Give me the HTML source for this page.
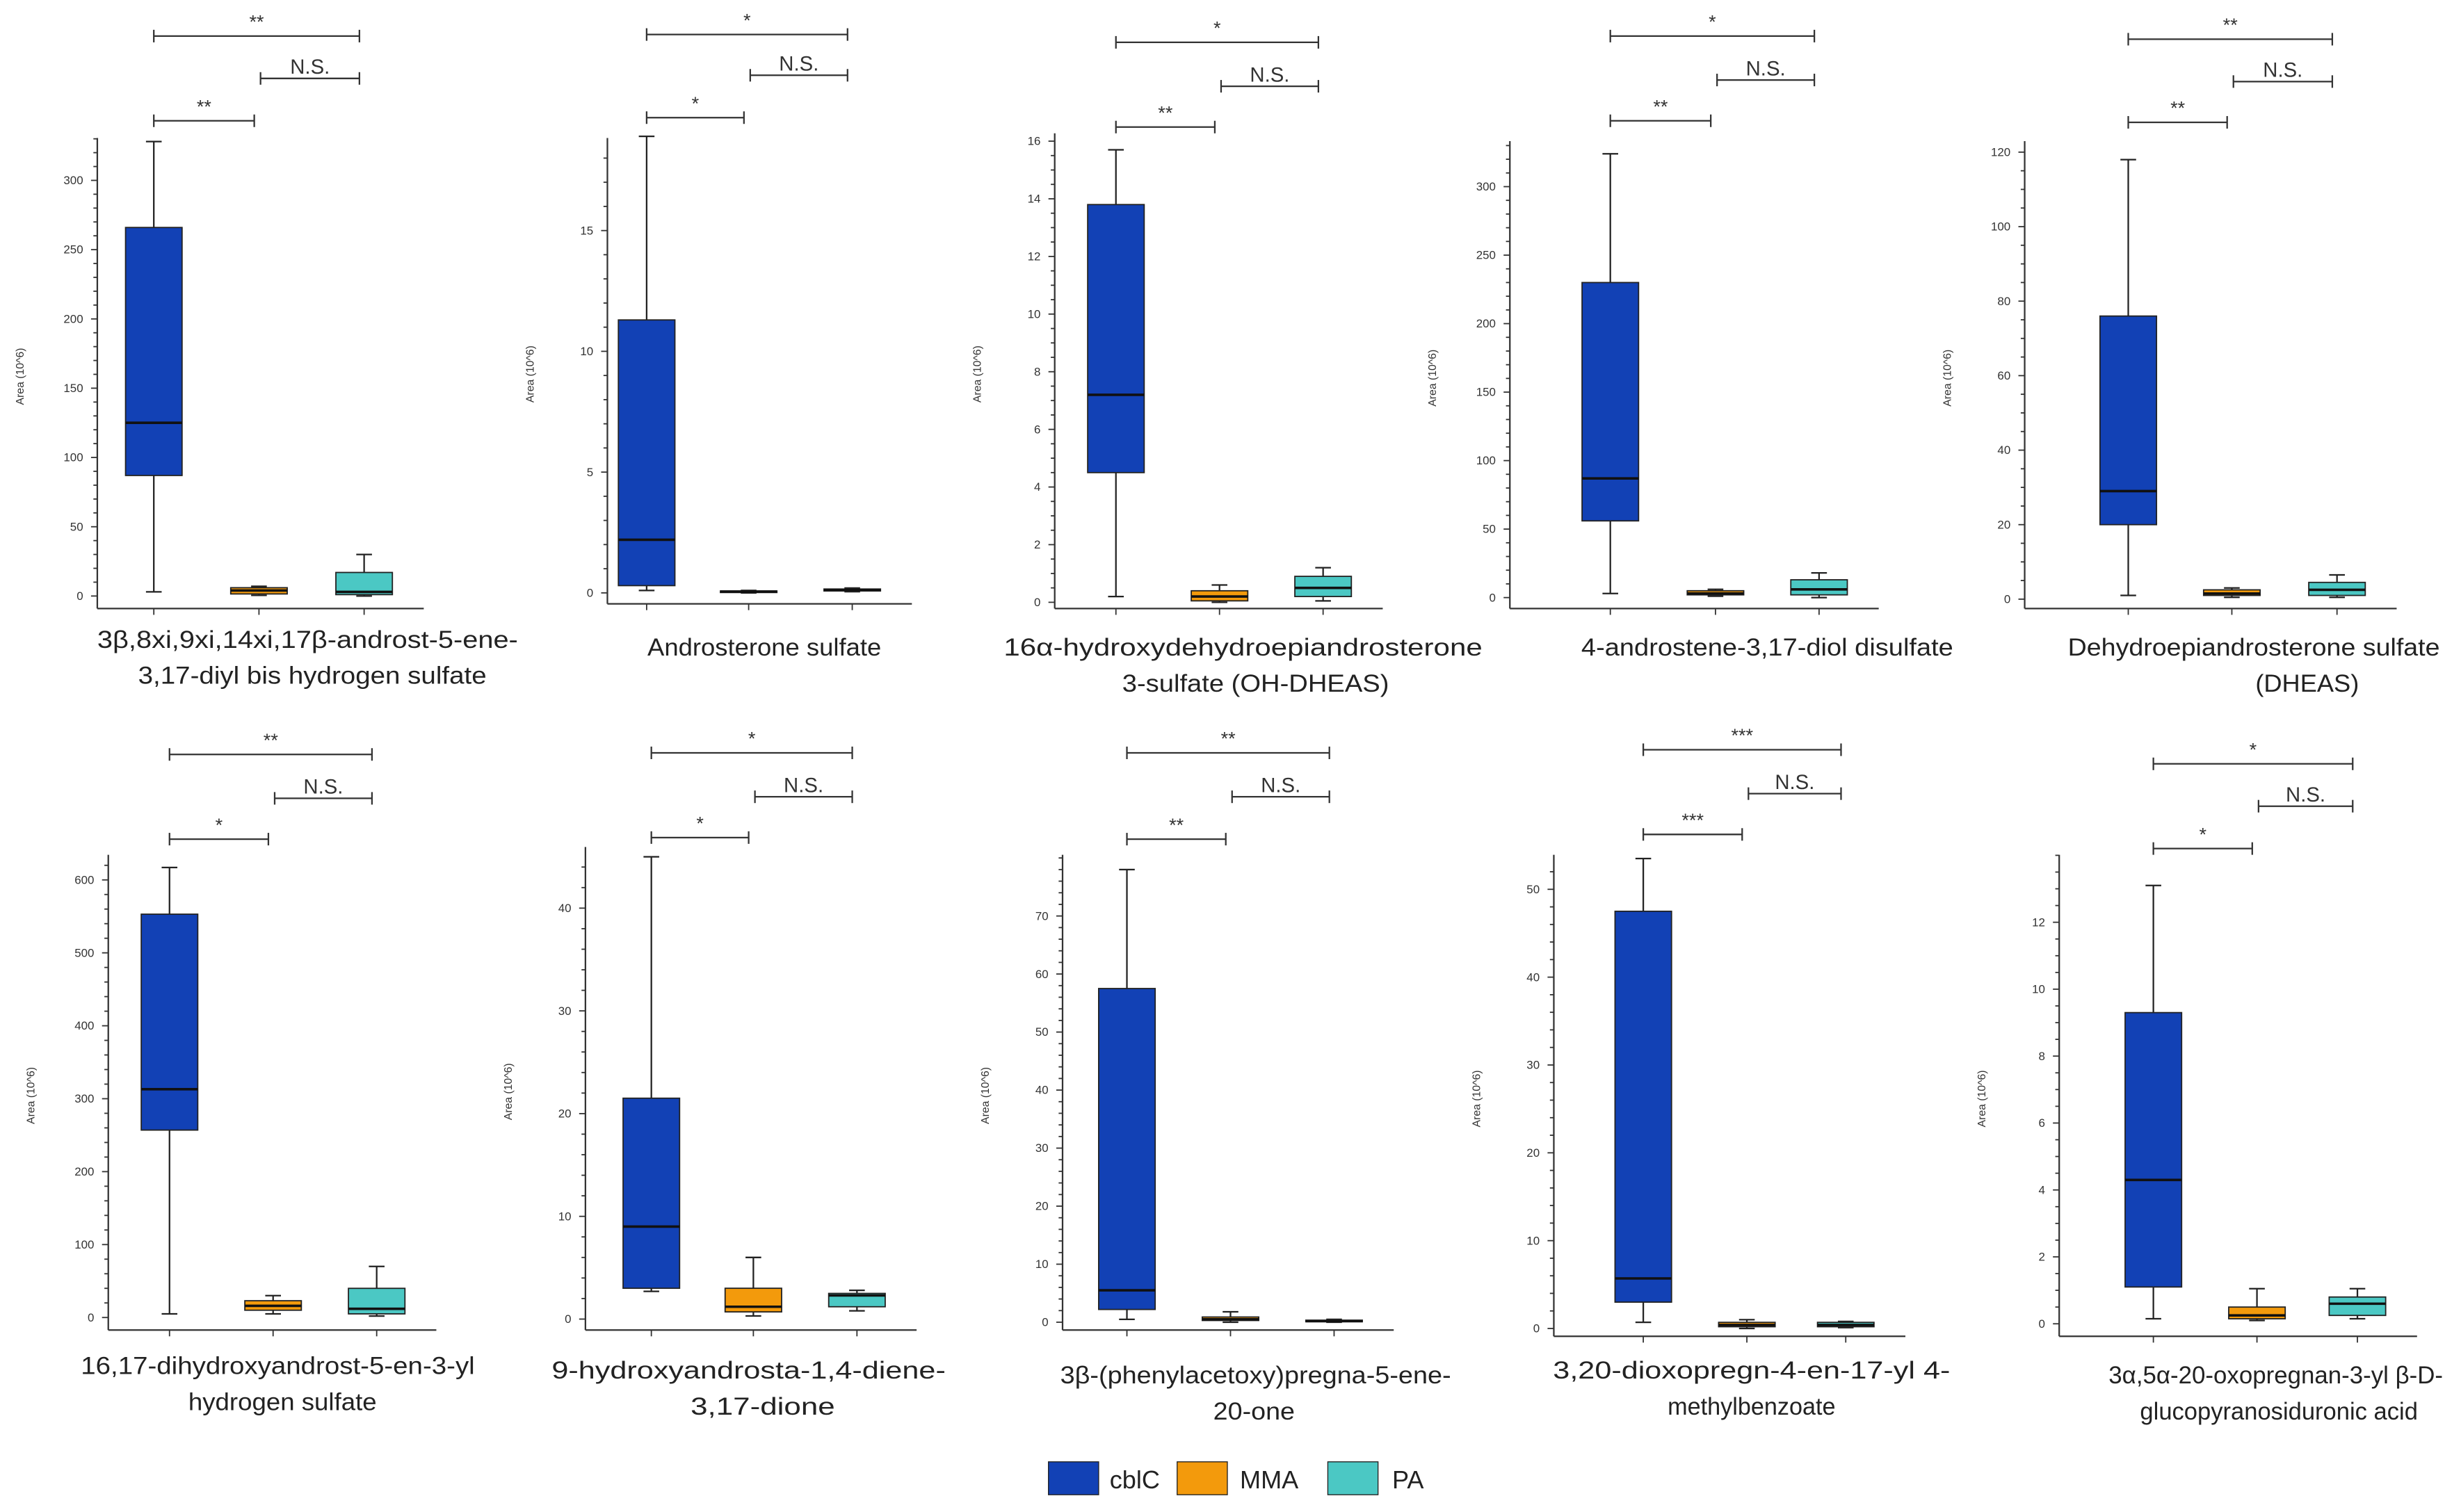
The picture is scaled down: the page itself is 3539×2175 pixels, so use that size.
<!DOCTYPE html>
<html><head><meta charset="utf-8"><style>
html,body{margin:0;padding:0;background:#fff;}
svg{display:block;}
text{font-family:"Liberation Sans",sans-serif;}
</style></head><body>
<svg id="chart" xmlns="http://www.w3.org/2000/svg" width="3539" height="2175" viewBox="0 0 1568 964" preserveAspectRatio="none">
<rect width="1568" height="964" fill="#fff"/>
<g>
<rect x="668" y="932" width="32" height="21" fill="#1241b5" stroke="#222" stroke-width="0.6"/>
<text x="707" y="949" font-size="16" fill="#222">cblC</text>
<rect x="750" y="932" width="32" height="21" fill="#f39a0c" stroke="#222" stroke-width="0.6"/>
<text x="790" y="949" font-size="16" fill="#222">MMA</text>
<rect x="846" y="932" width="32" height="21" fill="#4bc8c4" stroke="#222" stroke-width="0.6"/>
<text x="887" y="949" font-size="16" fill="#222">PA</text>
</g>
</svg>
<script>
// Data: per panel, [whiskerLow, q1, median, q3, whiskerHigh] for cblC, MMA, PA
const titles = [
 ["3β,8xi,9xi,14xi,17β-androst-5-ene-","3,17-diyl bis hydrogen sulfate"],
 ["Androsterone sulfate"],
 ["16α-hydroxydehydroepiandrosterone","3-sulfate (OH-DHEAS)"],
 ["4-androstene-3,17-diol disulfate"],
 ["Dehydroepiandrosterone sulfate","(DHEAS)"],
 ["16,17-dihydroxyandrost-5-en-3-yl","hydrogen sulfate"],
 ["9-hydroxyandrosta-1,4-diene-","3,17-dione"],
 ["3β-(phenylacetoxy)pregna-5-ene-","20-one"],
 ["3,20-dioxopregn-4-en-17-yl 4-","methylbenzoate"],
 ["3α,5α-20-oxopregnan-3-yl β-D-","glucopyranosiduronic acid"]
];
const cblcValues = [
 [3,87,125,266,328],[0.1,0.3,2.2,11.3,18.9],[0.2,4.5,7.2,13.8,15.7],[3,56,87,230,324],[1,20,29,76,118],
 [5,257,313,553,617],[2.7,3,9,21.5,45],[0.5,2.2,5.5,57.5,78],[0.7,3,5.7,47.5,53.5],[0.15,1.1,4.3,9.3,13.1]
];
const mmaValues = [
 [0.5,1.5,4,6,7],[0,0.02,0.05,0.08,0.1],[0,0.05,0.2,0.4,0.6],[1,2,3,5,6],[0.5,1,1.5,2.5,3],
 [5,10,16,23,30],[0.3,0.7,1.2,3,6],[0,0.3,0.5,0.9,1.8],[0,0.2,0.4,0.7,1],[0.1,0.15,0.25,0.5,1.05]
];
const paValues = [
 [0,1,3,17,30],[0.05,0.08,0.12,0.16,0.2],[0.05,0.2,0.5,0.9,1.2],[0,2,6,13,18],[0.5,1,2.5,4.5,6.5],
 [2,5,12,40,70],[0.8,1.2,2.3,2.5,2.8],[0,0.1,0.2,0.35,0.5],[0.1,0.2,0.4,0.7,0.8],[0.15,0.25,0.6,0.8,1.05]
];
const tickMax = [300,15,16,300,120,600,40,70,50,12];
const tickStep = [50,5,2,50,20,100,10,10,10,2];
const sigLabels = [
 ["**","N.S.","**"],["*","N.S.","*"],["*","N.S.","**"],["*","N.S.","**"],["**","N.S.","**"],
 ["**","N.S.","*"],["*","N.S.","*"],["**","N.S.","**"],["***","N.S.","***"],["*","N.S.","*"]
];
// Layout (display px, not data)
const layout = [
 {ax:62,top:88,axisY:388,y0:380,yTopV:300,yTopP:115,cx:[98,165,232],br:[23,50,77],tc:[196,199],tw:[268,222],ty:413,minor:5},
 {ax:387,top:88,axisY:385,y0:378,yTopV:15,yTopP:147,cx:[412,477,543],br:[22,48,75],tc:[487],tw:[149],ty:418,minor:5},
 {ax:672,top:85,axisY:388,y0:384,yTopV:16,yTopP:90,cx:[711,777,843],br:[27,55,81],tc:[792,800],tw:[305,170],ty:418,minor:4},
 {ax:962,top:90,axisY:388,y0:381,yTopV:300,yTopP:119,cx:[1026,1093,1159],br:[23,51,77],tc:[1126],tw:[237],ty:418,minor:5},
 {ax:1290,top:90,axisY:388,y0:382,yTopV:120,yTopP:97,cx:[1356,1422,1489],br:[25,52,78],tc:[1436,1470],tw:[237,66],ty:418,minor:4},
 {ax:69,top:545,axisY:848,y0:840,yTopV:600,yTopP:561,cx:[108,174,240],br:[481,509,535],tc:[177,180],tw:[251,120],ty:876,minor:5},
 {ax:373,top:540,axisY:848,y0:841,yTopV:40,yTopP:579,cx:[415,480,546],br:[480,508,534],tc:[477,486],tw:[251,92],ty:879,minor:5},
 {ax:677,top:545,axisY:848,y0:843,yTopV:70,yTopP:584,cx:[718,784,850],br:[480,508,535],tc:[800,799],tw:[249,52],ty:882,minor:5},
 {ax:990,top:545,axisY:852,y0:847,yTopV:50,yTopP:567,cx:[1047,1113,1176],br:[478,506,532],tc:[1116,1116],tw:[253,107],ty:879,minor:5},
 {ax:1312,top:545,axisY:852,y0:844,yTopV:12,yTopP:588,cx:[1372,1438,1502],br:[487,514,541],tc:[1450,1452],tw:[213,177],ty:882,minor:4}
];
const colors = ["#1241b5","#f39a0c","#4bc8c4"];
const NS = "http://www.w3.org/2000/svg";
const svg = document.getElementById('chart');
function mk(tag, attrs, parent){
  const e = document.createElementNS(NS, tag);
  for (const k in attrs) e.setAttribute(k, attrs[k]);
  parent.appendChild(e); return e;
}
titles.forEach((t, i) => {
  const L = layout[i];
  const yScale = v => L.y0 - v * (L.y0 - L.yTopP) / L.yTopV;
  const g = mk('g', {}, svg);
  
  
  const right = L.cx[2] + 38;
  const ya = mk('line', {x1:L.ax, y1:L.top, x2:L.ax, y2:L.axisY, stroke:'#333', 'stroke-width':1}, g);
  
  
  const xa = mk('line', {x1:L.ax, y1:L.axisY, x2:right, y2:L.axisY, stroke:'#333', 'stroke-width':1}, g);
  
  
  const minorStep = tickStep[i] / L.minor;
  for (let k = 0; ; k++) {
    const v = k * minorStep;
    const y = yScale(v);
    if (y < L.top) break;
    const major = k % L.minor === 0 && v <= tickMax[i] + 1e-9;
    mk('line', {x1:L.ax - (major ? 4 : 2.5), y1:y, x2:L.ax, y2:y, stroke:'#333', 'stroke-width':0.8}, g);
    if (major) {
      const tl = mk('text', {x:L.ax - 9, y:y + 2.5, 'font-size':7.5, 'text-anchor':'end', fill:'#333'}, g);
      
      
      tl.textContent = String(Math.round(v * 100) / 100);
    }
  }
  L.cx.forEach(x => mk('line', {x1:x, y1:L.axisY, x2:x, y2:L.axisY + 4, stroke:'#333', 'stroke-width':0.8}, g));
  const yl = mk('text', {x:0, y:0, 'font-size':7, 'text-anchor':'middle', fill:'#333',
    transform:'translate(' + (L.ax - 47) + ',' + ((L.top + L.axisY) / 2 + 2) + ') rotate(-90)'}, g);
  
  
  yl.textContent = 'Area (10^6)';
  [cblcValues[i], mmaValues[i], paValues[i]].forEach((d, j) => {
    const cx = L.cx[j], w = 36;
    const bg = mk('g', {}, g);
    
    
    const capW = 5;
    mk('line', {x1:cx, y1:yScale(d[0]), x2:cx, y2:yScale(d[1]), stroke:'#222', 'stroke-width':1}, bg);
    mk('line', {x1:cx, y1:yScale(d[3]), x2:cx, y2:yScale(d[4]), stroke:'#222', 'stroke-width':1}, bg);
    mk('line', {x1:cx - capW, y1:yScale(d[0]), x2:cx + capW, y2:yScale(d[0]), stroke:'#222', 'stroke-width':1}, bg);
    mk('line', {x1:cx - capW, y1:yScale(d[4]), x2:cx + capW, y2:yScale(d[4]), stroke:'#222', 'stroke-width':1}, bg);
    const y3 = yScale(d[3]), y1 = yScale(d[1]);
    mk('rect', {x:cx - w/2, y:y3, width:w, height:Math.max(y1 - y3, 1), fill:colors[j], stroke:'#222', 'stroke-width':0.8}, bg);
    mk('line', {x1:cx - w/2, y1:yScale(d[2]), x2:cx + w/2, y2:yScale(d[2]), stroke:'#111', 'stroke-width':1.6}, bg);
  });
  const pairs = [[0,2],[1,2],[0,1]];
  pairs.forEach((p, k) => {
    const y = L.br[k];
    const x1 = L.cx[p[0]], x2 = L.cx[p[1]] - 3;
    const sx1 = k === 1 ? L.cx[1] + 1 : x1;
    const sg = mk('g', {}, g);
    
    
    mk('line', {x1:sx1, y1:y, x2:x2, y2:y, stroke:'#333', 'stroke-width':1}, sg);
    mk('line', {x1:sx1, y1:y - 4, x2:sx1, y2:y + 4, stroke:'#333', 'stroke-width':1}, sg);
    mk('line', {x1:x2, y1:y - 4, x2:x2, y2:y + 4, stroke:'#333', 'stroke-width':1}, sg);
    const lab = sigLabels[i][k];
    const isNS = lab === 'N.S.';
    const st = mk('text', {x:(sx1 + x2) / 2, y:isNS ? y - 3 : y - 5, 'font-size':isNS ? 13 : 12, 'text-anchor':'middle', fill:'#333'}, sg);
    st.textContent = lab;
  });
  t.forEach((line, k) => {
    const tt = mk('text', {x:L.tc[k], y:L.ty + k * 23, 'font-size':15.5, 'text-anchor':'middle', fill:'#222',
      textLength:L.tw[k], lengthAdjust:'spacingAndGlyphs'}, g);
    
    
    tt.textContent = line;
  });
});
</script>
</body></html>
